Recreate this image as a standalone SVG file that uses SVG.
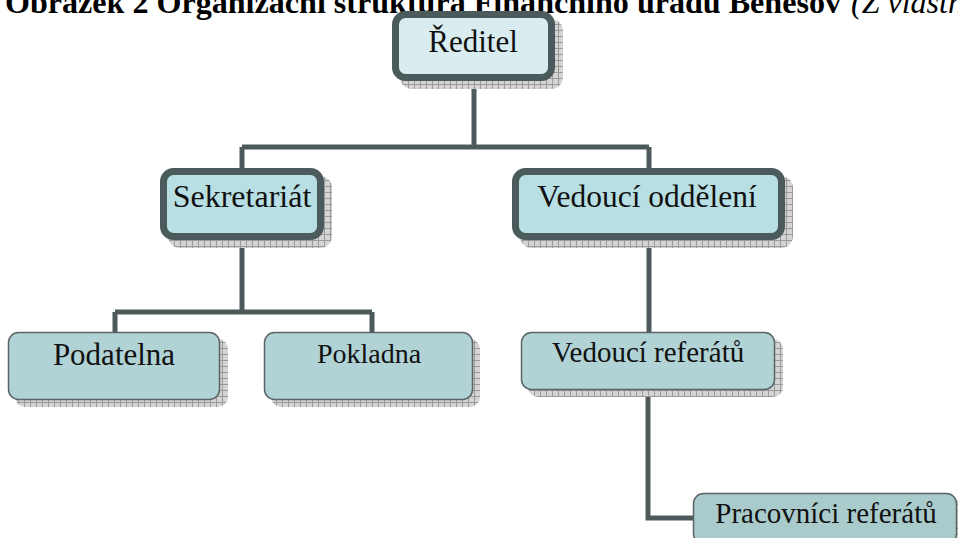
<svg xmlns="http://www.w3.org/2000/svg" width="958" height="538" viewBox="0 0 958 538">
  <defs>
    <pattern id="hatch" width="6" height="6" patternUnits="userSpaceOnUse">
      <rect width="6" height="6" fill="#d4d4d4"/>
      <path d="M0 0.5H6M0.5 0V6" stroke="#9a9a9a" stroke-width="1"/>
    </pattern>
  </defs>
  <style>
    .shadow { fill: url(#hatch); }
    .top { stroke: #4b5a5b; stroke-width: 7; }
    .low { stroke: #5a6566; stroke-width: 1.5; }
    .t { font-family: "Liberation Serif", "Times New Roman", serif; fill: #111; text-anchor: middle; }
    .conn { fill: none; stroke: #4d5a5c; stroke-width: 5; }
  </style>
  <rect width="958" height="538" fill="#ffffff"/>

  <g id="title" font-family="Liberation Serif, Times New Roman, serif" font-size="32" fill="#000">
    <text x="5" y="13" font-weight="bold" textLength="836" lengthAdjust="spacingAndGlyphs">Obrázek 2 Organizační struktura Finančního úřadu Benešov</text>
    <text x="851" y="13" font-style="italic">(Z vlastní</text>
  </g>

  <g id="connectors">
    <path class="conn" d="M474 81V147M242 147H649M242 147V168M649 147V168"/>
    <path class="conn" d="M242 240V312M115 312H372M115 312V332M372 312V332"/>
    <path class="conn" d="M649 240V332"/>
    <path class="conn" d="M648 390V518H693"/>
  </g>

  <g id="reditel">
    <rect class="shadow" x="400" y="19" width="163" height="70" rx="12"/>
    <rect class="top" x="395.5" y="14.5" width="156" height="63" rx="10" fill="#d9edf0"/>
    <text class="t" x="473" y="52" font-size="31">Ředitel</text>
  </g>

  <g id="sekretariat">
    <rect class="shadow" x="168" y="176" width="164" height="72" rx="12"/>
    <rect class="top" x="163.5" y="171.5" width="157" height="65" rx="10" fill="#b8dfe3"/>
    <text class="t" x="242" y="207" font-size="32">Sekretariát</text>
  </g>

  <g id="vedouci-oddeleni">
    <rect class="shadow" x="520" y="176" width="273" height="72" rx="12"/>
    <rect class="top" x="515.5" y="171.5" width="266" height="65" rx="10" fill="#b8dfe3"/>
    <text class="t" x="647" y="207" font-size="31.5">Vedoucí oddělení</text>
  </g>

  <g id="podatelna">
    <rect class="shadow" x="15" y="339" width="213" height="68" rx="10"/>
    <rect class="low" x="8.5" y="332.5" width="211" height="67" rx="10" fill="#b1d3d5"/>
    <text class="t" x="114" y="365" font-size="31">Podatelna</text>
  </g>

  <g id="pokladna">
    <rect class="shadow" x="271" y="339" width="209" height="68" rx="10"/>
    <rect class="low" x="264.5" y="332.5" width="208" height="67" rx="10" fill="#b1d3d5"/>
    <text class="t" x="369" y="363" font-size="28">Pokladna</text>
  </g>

  <g id="vedouci-referatu">
    <rect class="shadow" x="528" y="339" width="255" height="58" rx="10"/>
    <rect class="low" x="521.5" y="332.5" width="253" height="57" rx="10" fill="#b1d3d5"/>
    <text class="t" x="648" y="362" font-size="29">Vedoucí referátů</text>
  </g>

  <g id="pracovnici-referatu">
    <rect class="shadow" x="700" y="500" width="265" height="50" rx="10"/>
    <rect class="low" x="693.5" y="493.5" width="263" height="50" rx="10" fill="#a9cbcc"/>
    <text class="t" x="826" y="523" font-size="29">Pracovníci referátů</text>
  </g>
</svg>
